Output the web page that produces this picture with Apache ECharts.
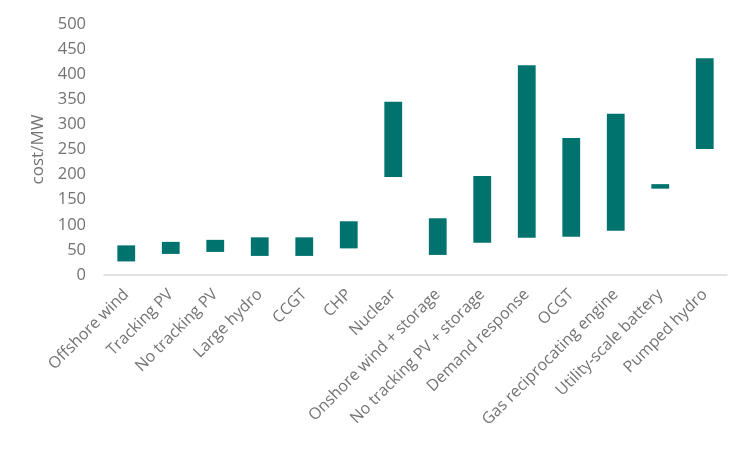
<!DOCTYPE html>
<html>
<head>
<meta charset="utf-8">
<script src="https://cdn.jsdelivr.net/npm/echarts@6/dist/echarts.min.js"></script>
<style>html,body{margin:0;padding:0;background:#fff}#c{width:750px;height:450px}</style>
</head>
<body>
<div id="c"></div>
<script>
const categories = ["Offshore wind","Tracking PV","No tracking PV","Large hydro","CCGT","CHP","Nuclear","Onshore wind + storage","No tracking PV + storage","Demand response","OCGT","Gas reciprocating engine","Utility-scale battery","Pumped hydro"];
const lowValues  = [27, 42, 46, 38, 38, 53, 195, 40, 64, 74, 76, 88, 172, 251];
const highValues = [59, 66, 70, 75, 75, 107, 345, 113, 197, 418, 273, 321, 181, 432];
const yTicks = {min: 0, max: 500, interval: 50};

const rangeValues = highValues.map((h, i) => h - lowValues[i]);
const chart = echarts.init(document.getElementById('c'));
const font = 'Open Sans';
const txt = '#737373';
chart.setOption({
  animation: false,
  grid: {left: 104, right: 23, top: 24, bottom: 175},
  xAxis: {
    type: 'category', data: categories,
    axisLine: {lineStyle: {color: '#d9d9d9', width: 1.5}},
    axisTick: {show: false},
    axisLabel: {rotate: 45, interval: 0, color: txt, fontSize: 16, fontFamily: font, margin: 17}
  },
  yAxis: {
    type: 'value', min: yTicks.min, max: yTicks.max, interval: yTicks.interval,
    name: 'cost/MW', nameLocation: 'middle', nameGap: 52,
    nameTextStyle: {color: txt, fontSize: 17, fontFamily: font},
    axisLine: {show: false}, axisTick: {show: false}, splitLine: {show: false},
    axisLabel: {color: txt, fontSize: 16.5, fontFamily: font, margin: 18}
  },
  series: [
    {type: 'bar', stack: 'r', data: lowValues, itemStyle: {color: 'transparent'}, barWidth: '40%', silent: true},
    {type: 'bar', stack: 'r', data: rangeValues, itemStyle: {color: '#00736F'}, barWidth: '40%'}
  ]
});
</script>
</body>
</html>
